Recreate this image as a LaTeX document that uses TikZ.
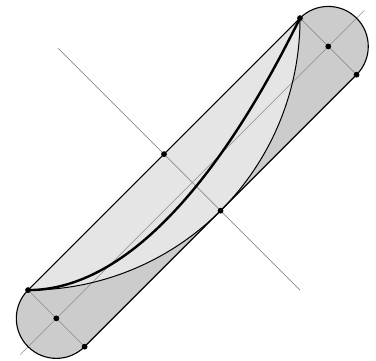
\documentclass[tikz,border=0pt]{standalone}
\usetikzlibrary{calc}
\begin{document}
\begin{tikzpicture}[x=1pt,y=1pt,
  guide/.style={draw=black!45,line width=0.6pt},
  outline/.style={draw=black,line width=1.1pt},
  dot/.style={circle,fill=black,inner sep=0pt,minimum size=5.8pt}]
\useasboundingbox (0,0) rectangle (376,361);
\begin{scope}[shift={(192.3,178.6)},rotate=45]
  \coordinate (C1) at (-192.3,0);
  \coordinate (C2) at (192.3,0);
  \coordinate (A) at (-192.3,40);
  \coordinate (B) at (-192.3,-40);
  \coordinate (P) at (192.3,40);
  \coordinate (Q) at (192.3,-40);
  \coordinate (M1) at (0,40);
  \coordinate (M2) at (0,-40);
  \coordinate (X1) at (-243.3,0);
  \coordinate (X2) at (243.3,0);
  \coordinate (Y1) at (0,189.5);
  \coordinate (Y2) at (0,-152.3);
  % stadium
  \fill[black!20] (A) -- (P) arc[start angle=90,end angle=-90,radius=40] -- (B) arc[start angle=270,end angle=90,radius=40] -- cycle;
  % light lens region
  \fill[black!10] (A) -- (P) arc[start angle=-44.82,end angle=-135.18,radius=271.12] -- cycle;
  % guide lines
  \draw[guide] (X1) -- (X2);
  \draw[guide] (Y1) -- (Y2);
  \draw[guide] (A) -- (B);
  \draw[guide] (P) -- (Q);
  % outline
  \draw[outline] (A) -- (P) arc[start angle=90,end angle=-90,radius=40] -- (B) arc[start angle=270,end angle=90,radius=40] -- cycle;
  % thin circular arc
  \draw[line width=1pt] (P) arc[start angle=-44.82,end angle=-135.18,radius=271.12];
\end{scope}
% thick parabola with vertex at A
\draw[line width=2.4pt] (A) parabola (P);
\foreach \p in {A,B,C1,C2,P,Q,M1,M2} \node[dot] (d\p) at (\p) {};
\end{tikzpicture}
\end{document}
